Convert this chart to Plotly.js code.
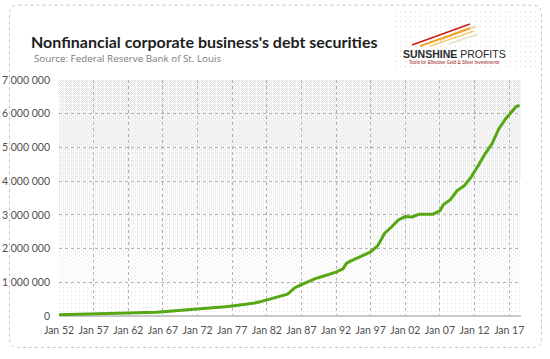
<!DOCTYPE html>
<html>
<head>
<meta charset="utf-8">
<script src="https://cdn.plot.ly/plotly-3.0.1.min.js"></script>
<style>
html,body{margin:0;padding:0;background:#fff;}
#chart{width:550px;height:359px;}
</style>
</head>
<body>
<div id="chart"></div>
<script>
// ---- data (millions of USD) ----
const dates = [
 "1952-01-01","1953-01-01","1954-01-01","1955-01-01","1956-01-01","1957-01-01","1958-01-01","1959-01-01",
 "1960-01-01","1961-01-01","1962-01-01","1963-01-01","1964-01-01","1965-01-01","1966-01-01","1967-01-01",
 "1968-01-01","1969-01-01","1970-01-01","1971-01-01","1972-01-01","1973-01-01","1974-01-01","1975-01-01",
 "1976-01-01","1977-01-01","1978-01-01","1979-01-01","1980-01-01","1981-01-01","1982-01-01","1983-01-01",
 "1984-01-01","1985-01-01","1985-07-01","1986-01-01","1987-01-01","1988-01-01","1989-01-01","1990-01-01",
 "1991-01-01","1992-01-01","1993-01-01","1993-07-01","1994-01-01","1995-01-01","1996-01-01","1997-01-01",
 "1998-01-01","1998-07-01","1999-01-01","2000-01-01","2001-01-01","2002-01-01","2003-01-01","2004-01-01",
 "2005-01-01","2006-01-01","2007-01-01","2007-07-01","2008-07-01","2009-07-01","2010-07-01","2011-07-01",
 "2012-07-01","2013-07-01","2014-07-01","2015-07-01","2016-07-01","2017-07-01","2018-01-01","2018-07-01"
];
const debtSecurities = [
 38000,42000,46000,50000,53000,58000,66000,70000,
 74000,80000,88000,93000,98000,103000,112000,125000,
 140000,155000,168000,190000,205000,215000,228000,250000,
 275000,300000,325000,345000,375000,420000,480000,540000,
 600000,650000,740000,830000,930000,1020000,1110000,1170000,
 1240000,1300000,1400000,1560000,1620000,1710000,1800000,1900000,
 2080000,2280000,2450000,2640000,2850000,2950000,2940000,3020000,
 3030000,3020000,3120000,3300000,3450000,3720000,3860000,4120000,
 4450000,4800000,5100000,5550000,5850000,6100000,6210000,6250000
];
const titleText = "Nonfinancial corporate business's debt securities";
const sourceText = "Source: Federal Reserve Bank of St. Louis";

// ---- geometry helpers (pixels -> paper) ----
const W = 550, H = 359;
const M = {l:59, r:29, t:80, b:42.5};
const PW = W - M.l - M.r, PH = H - M.t - M.b;
const px = x => (x - M.l) / PW;
const py = y => (H - M.b - y) / PH;

// ---- dotted background of the plot area (ordered dither) ----
function plotBg(){
  const c = document.createElement('canvas');
  c.width = Math.round(PW); c.height = Math.round(PH);
  const g = c.getContext('2d');
  const img = g.createImageData(c.width, c.height);
  const bayer = [[0,8,2,10],[12,4,14,6],[3,11,1,9],[15,7,13,5]];
  for (let y=0;y<c.height;y++){
    const t = y/(c.height-1);
    const cov = 0.42*(1-t) + 0.04;
    for (let x=0;x<c.width;x++){
      const th = (bayer[y%4][x%4]+0.5)/16;
      const i = (y*c.width+x)*4;
      const on = cov > th;
      const v = on ? 222 : 255;
      img.data[i]=v; img.data[i+1]=v; img.data[i+2]=v; img.data[i+3]=255;
    }
  }
  g.putImageData(img,0,0);
  return c.toDataURL();
}
function logoBg(w,h){
  const c = document.createElement('canvas');
  c.width=w; c.height=h;
  const g = c.getContext('2d');
  g.fillStyle='#fff'; g.fillRect(0,0,w,h);
  g.fillStyle='#d6d6d6';
  for(let y=2;y<h;y+=5){for(let x=((y/5)%2?2:4);x<w;x+=5){g.fillRect(x,y,1,1);}}
  return c.toDataURL();
}

// ---- frame path (rounded rectangle) ----
function roundRect(x0,y0,x1,y1,r){
  const P=(x,y)=>px(x)+','+py(y);
  return 'M'+P(x0+r,y0)+' L'+P(x1-r,y0)+' Q'+P(x1,y0)+' '+P(x1,y0+r)+
         ' L'+P(x1,y1-r)+' Q'+P(x1,y1)+' '+P(x1-r,y1)+
         ' L'+P(x0+r,y1)+' Q'+P(x0,y1)+' '+P(x0,y1-r)+
         ' L'+P(x0,y0+r)+' Q'+P(x0,y0)+' '+P(x0+r,y0)+' Z';
}
function seg(x0,y0,x1,y1,color,w){
  return {type:'line',xref:'paper',yref:'paper',x0:px(x0),y0:py(y0),x1:px(x1),y1:py(y1),
          line:{color:color,width:w},layer:'above'};
}

const trace = {
  x: dates, y: debtSecurities, type:'scatter', mode:'lines',
  line:{color:'#55a814', width:3, shape:'linear'},
  hoverinfo:'skip', showlegend:false
};

const tickFont = {family:'Lato, "Open Sans", sans-serif', size:10.5, color:'#505050'};

const layout = {
  width:W, height:H,
  margin:M,
  paper_bgcolor:'#fff',
  plot_bgcolor:'rgba(0,0,0,0)',
  separators:'. ',
  showlegend:false,
  xaxis:{
    type:'date',
    range:['1952-01-01','2018-09-15'],
    tick0:'1952-01-01', dtick:'M60', tickformat:'Jan %y',
    showgrid:true, gridcolor:'#b5b5b5', griddash:'dot', gridwidth:1,
    zeroline:false, showline:false, ticks:'', tickfont:tickFont,
    ticklabelstandoff:6, fixedrange:true
  },
  yaxis:{
    range:[0,7000000], dtick:1000000, tickformat:',d',
    showgrid:true, gridcolor:'#b5b5b5', griddash:'dot', gridwidth:1,
    zeroline:true, zerolinecolor:'#c8c8c8', zerolinewidth:1.5,
    showline:false, ticks:'', tickfont:tickFont, ticklabelstandoff:8, fixedrange:true
  },
  images:[
    {source:plotBg(), xref:'paper', yref:'paper', x:0, y:1, sizex:1, sizey:1,
     sizing:'stretch', xanchor:'left', yanchor:'top', layer:'below'},
    {source:logoBg(146,62), xref:'paper', yref:'paper', x:px(393), y:py(9), sizex:px(539)-px(393), sizey:py(9)-py(71),
     sizing:'stretch', xanchor:'left', yanchor:'top', layer:'below'}
  ],
  shapes:[
    {type:'path', xref:'paper', yref:'paper', path:roundRect(9.5,5,541.5,348,9),
     line:{color:'#c4c4c4', width:1, dash:'dot'}, fillcolor:'rgba(0,0,0,0)', layer:'below'},
    // logo swooshes
    seg(440,40,476,26,'#f3d9b0',2.5),
    seg(448,44,478,34,'#e8e2d0',2),
    seg(420,46,470,28,'#f0a020',2),
    seg(412,45,470,24,'#cf1b1b',1.6),
    seg(430,46,474,31,'#f6c45a',1.2)
  ],
  annotations:[
    {text:'<b>'+titleText+'</b>', xref:'paper', yref:'paper', x:px(29), y:py(41),
     xanchor:'left', yanchor:'middle', showarrow:false,
     font:{family:'Lato, "Open Sans", sans-serif', size:16, color:'#1e1e1e'}},
    {text:sourceText, xref:'paper', yref:'paper', x:px(32), y:py(58),
     xanchor:'left', yanchor:'middle', showarrow:false,
     font:{family:'"Open Sans", Lato, sans-serif', size:9.8, color:'#7a7a7a'}},
    {text:'<b>SUNSHINE</b> PROFITS', xref:'paper', yref:'paper', x:px(454), y:py(54),
     xanchor:'center', yanchor:'middle', showarrow:false,
     font:{family:'"Liberation Sans", Arial, sans-serif', size:10.5, color:'#2a2a2a'}},
    {text:'Tools for Effective Gold &amp; Silver Investments', xref:'paper', yref:'paper', x:px(454), y:py(62.5),
     xanchor:'center', yanchor:'middle', showarrow:false,
     font:{family:'"Liberation Sans", Arial, sans-serif', size:4.6, color:'#a01818'}}
  ]
};

Plotly.newPlot('chart', [trace], layout, {displayModeBar:false, staticPlot:true});
</script>
</body>
</html>
